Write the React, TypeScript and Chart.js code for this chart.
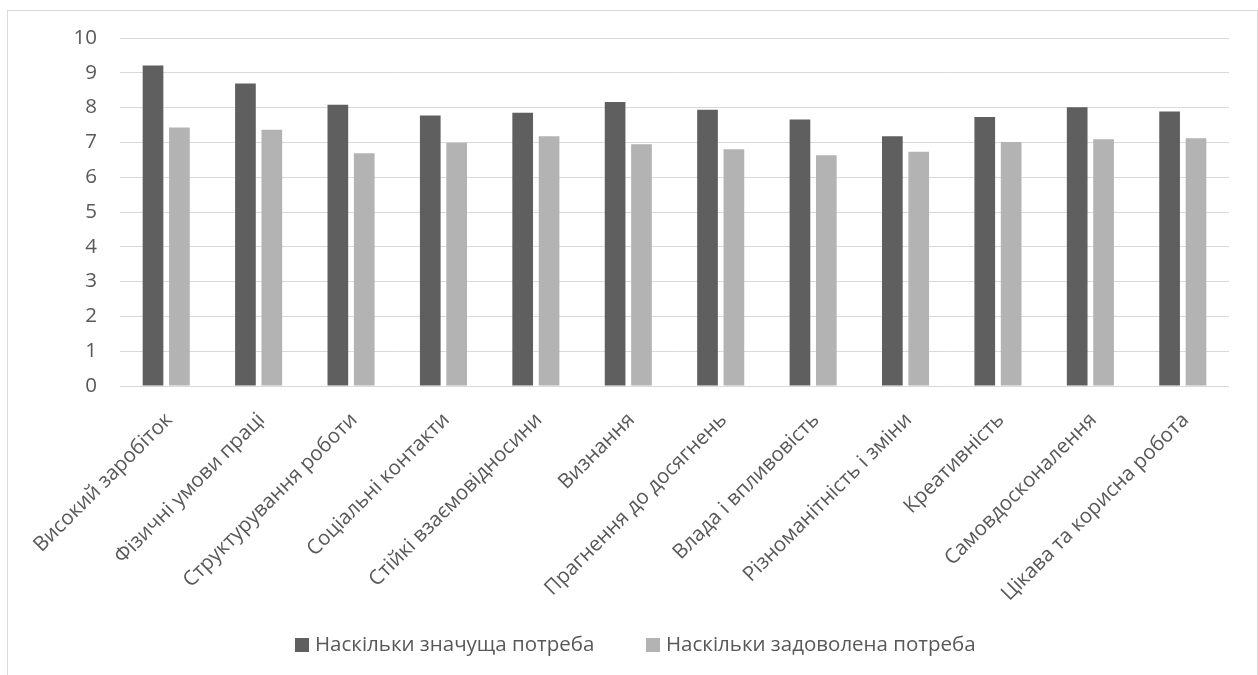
import React, { useEffect, useRef } from "react";
import { Chart, registerables } from "chart.js";

Chart.register(...registerables);

const categories = [
  "Високий заробіток",
  "Фізичні умови праці",
  "Структурування роботи",
  "Соціальні контакти",
  "Стійкі взаємовідносини",
  "Визнання",
  "Прагнення до досягнень",
  "Влада і впливовість",
  "Різноманітність і зміни",
  "Креативність",
  "Самовдосконалення",
  "Цікава та корисна робота",
];

const importanceLabel = "Наскільки значуща потреба";
const satisfactionLabel = "Наскільки задоволена потреба";

const importance = [9.21, 8.69, 8.08, 7.77, 7.85, 8.16, 7.94, 7.66, 7.18, 7.73, 8.01, 7.89];
const satisfaction = [7.43, 7.36, 6.69, 6.99, 7.18, 6.95, 6.8, 6.63, 6.73, 7.01, 7.09, 7.12];

const yTicks = [0, 1, 2, 3, 4, 5, 6, 7, 8, 9, 10];

const FONT = "'Open Sans', sans-serif";
const FSIZE = 20.5;
const TEXT = "#595959";

const legendPlugin = {
  id: "customLegend",
  afterDraw(chart: any) {
    const ctx = chart.ctx;
    const starts = [287, 638];
    ctx.save();
    ctx.font = `${FSIZE}px ${FONT}`;
    ctx.textBaseline = "middle";
    ctx.textAlign = "left";
    chart.data.datasets.forEach((ds: any, i: number) => {
      const x = starts[i];
      const y = 627;
      ctx.fillStyle = ds.backgroundColor;
      ctx.fillRect(x, y, 14, 14);
      ctx.fillStyle = TEXT;
      ctx.fillText(ds.label, x + 20, y + 7);
    });
    ctx.restore();
  },
};

export default function App() {
  const ref = useRef<HTMLCanvasElement>(null);

  useEffect(() => {
    if (!ref.current) return;
    const chart = new Chart(ref.current, {
      type: "bar",
      data: {
        labels: categories,
        datasets: [
          {
            label: importanceLabel,
            data: importance,
            backgroundColor: "#5f5f5f",
            categoryPercentage: 0.571,
            barPercentage: 0.784,
          },
          {
            label: satisfactionLabel,
            data: satisfaction,
            backgroundColor: "#b3b3b3",
            categoryPercentage: 0.571,
            barPercentage: 0.784,
          },
        ],
      },
      options: {
        responsive: false,
        animation: false,
        layout: { padding: { top: 27, right: 28, bottom: 0, left: 0 } },
        plugins: {
          legend: { display: false },
          tooltip: { enabled: false },
        },
        scales: {
          x: {
            grid: { display: false },
            border: { display: false },
            ticks: {
              autoSkip: false,
              minRotation: 45,
              maxRotation: 45,
              color: TEXT,
              font: { family: FONT, size: FSIZE },
              padding: 14,
              labelOffset: 3,
            },
            afterFit(scale: any) {
              scale.height = 289;
              scale.paddingLeft = 0;
              scale.paddingRight = 0;
            },
          },
          y: {
            min: 0,
            max: 10,
            afterBuildTicks(scale: any) {
              scale.ticks = yTicks.map((v) => ({ value: v }));
            },
            grid: { color: "#d9d9d9", lineWidth: 1, drawTicks: false },
            border: { display: false },
            ticks: {
              color: TEXT,
              font: { family: FONT, size: FSIZE },
              padding: 23,
            },
            afterFit(scale: any) {
              scale.width = 112;
              scale.paddingTop = 0;
              scale.paddingBottom = 0;
            },
          },
        },
      },
      plugins: [legendPlugin],
    });
    return () => chart.destroy();
  }, []);

  return (
    <div
      style={{
        position: "absolute",
        left: 7,
        top: 10,
        width: 1251,
        height: 665,
        boxSizing: "border-box",
        border: "1px solid #d9d9d9",
        borderBottom: "none",
        background: "#fff",
      }}
    >
      <canvas ref={ref} width={1249} height={664} style={{ display: "block" }} />
    </div>
  );
}
